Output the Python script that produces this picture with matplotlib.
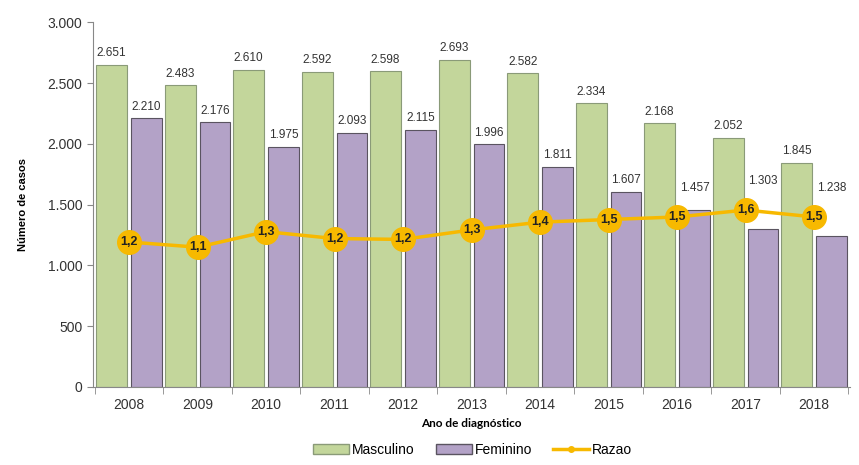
import matplotlib
matplotlib.use("Agg")
import matplotlib.pyplot as plt
import numpy as np
from matplotlib.ticker import FuncFormatter
from matplotlib.patches import Patch
from matplotlib.lines import Line2D

plt.rcParams['font.family'] = ['Liberation Sans', 'DejaVu Sans']

anos = ["2008", "2009", "2010", "2011", "2012", "2013", "2014", "2015", "2016", "2017", "2018"]
masculino = [2651, 2483, 2610, 2592, 2598, 2693, 2582, 2334, 2168, 2052, 1845]
feminino = [2210, 2176, 1975, 2093, 2115, 1996, 1811, 1607, 1457, 1303, 1238]
razao = [1.20, 1.14, 1.32, 1.24, 1.23, 1.34, 1.43, 1.46, 1.49, 1.57, 1.49]

GREEN = '#c3d69b'
PURPLE = '#b3a2c7'
GOLD = '#f7b900'

# razao drawn on a hidden secondary axis
R_LO, R_HI = -0.477, 3.743


def milhar(v, pos=None):
    return f"{int(v):,}".replace(",", ".")


fig = plt.figure(figsize=(8.59, 4.65), dpi=100)
ax = fig.add_axes([0.108, 0.168, 0.882, 0.784])

x = np.arange(len(anos))
w = 0.45
off = 0.255
ax.bar(x - off, masculino, w, color=GREEN, edgecolor='#8a9a78', linewidth=0.8)
ax.bar(x + off, feminino, w, color=PURPLE, edgecolor='#5a5460', linewidth=0.8)

for xi, v in zip(x, masculino):
    ax.text(xi - off, v + 45, milhar(v), ha='center', va='bottom', fontsize=8.5, color='#333333')
for xi, v, r in zip(x, feminino, razao):
    # keep the label clear of the ratio marker, like the original does
    r_prim = (r - R_LO) / (R_HI - R_LO) * 3000
    y = v + 45
    if y < r_prim + 190 and v + 300 > r_prim:
        y = r_prim + 190
    ax.text(xi + off, y, milhar(v), ha='center', va='bottom', fontsize=8.5, color='#333333')

ax.set_xlim(-0.53, len(anos) - 0.47)
ax.set_ylim(0, 3000)
ax.set_yticks(np.arange(0, 3001, 500))
ax.yaxis.set_major_formatter(FuncFormatter(milhar))
ax.set_xticks(x)
ax.set_xticklabels(anos)
ax.set_xticks(np.arange(-0.5, len(anos), 1), minor=True)
ax.tick_params(axis='x', which='major', length=0, pad=8, labelsize=10, colors='#333333')
ax.tick_params(axis='x', which='minor', length=5, color='#888888')
ax.tick_params(axis='y', length=4, color='#888888', labelsize=10, labelcolor='#333333')
for s in ['top', 'right']:
    ax.spines[s].set_visible(False)
ax.spines['left'].set_color('#888888')
ax.spines['bottom'].set_color('#888888')

ax.set_ylabel("Número de casos", fontsize=8, fontweight='bold', labelpad=14)
ax.set_xlabel("Ano de diagnóstico", fontsize=8.5, fontweight='bold', labelpad=4,
              family=['Lato', 'DejaVu Sans'])

ax2 = ax.twinx()
ax2.set_ylim(R_LO, R_HI)
ax2.plot(x, razao, color=GOLD, linewidth=2.5, marker='o', markersize=17,
         markerfacecolor=GOLD, markeredgecolor=GOLD, zorder=3)
for xi, r in zip(x, razao):
    ax2.text(xi, r, f"{r:.1f}".replace(".", ","), ha='center', va='center',
             fontsize=9, fontweight='bold', color='#222222', zorder=4)
ax2.axis('off')

handles = [Patch(facecolor=GREEN, edgecolor='#8a9a78'),
           Patch(facecolor=PURPLE, edgecolor='#5a5460'),
           Line2D([0], [0], color=GOLD, linewidth=2.5, marker='o', markersize=4)]
fig.legend(handles, ["Masculino", "Feminino", "Razao"], loc='lower center',
           bbox_to_anchor=(0.55, -0.01), ncol=3, frameon=False, fontsize=10,
           handlelength=2.6, handleheight=0.7, handletextpad=0.2, columnspacing=1.5)

fig.savefig("out.png", dpi=100)
